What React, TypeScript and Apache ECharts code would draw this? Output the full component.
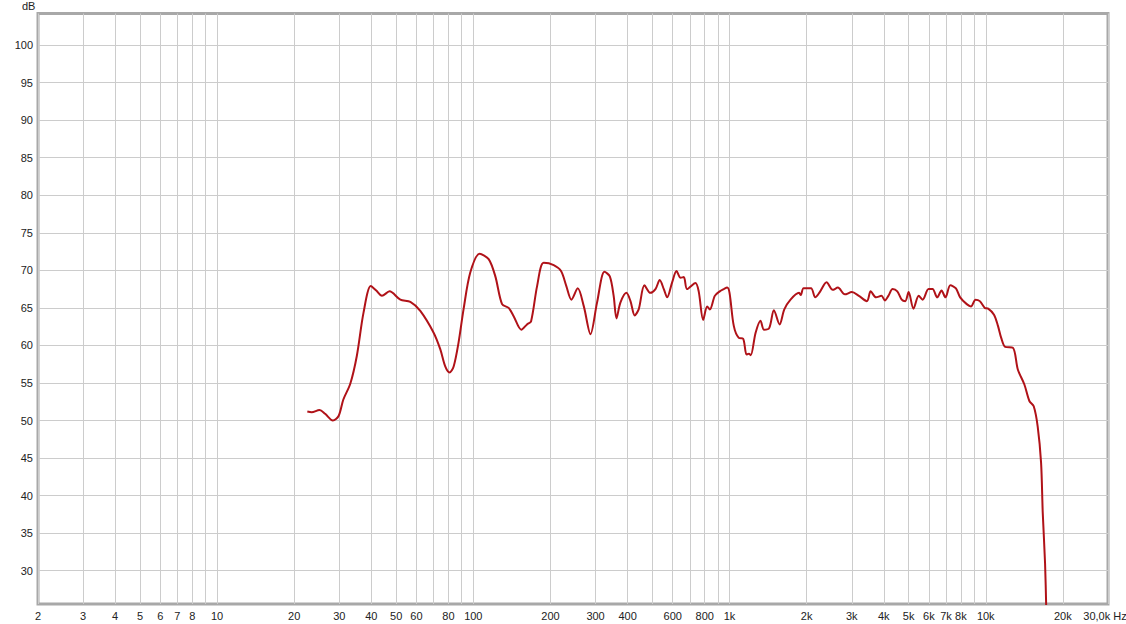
import React, { useEffect, useRef } from "react";
import * as echarts from "echarts";

const freqs = [
  22.5, 23.4, 25.1, 26.4, 28.3, 29.8, 31.1, 33.1, 35.1, 37.3, 39.8, 41.8, 44.0, 47.1, 51.9, 56.8, 62.1, 70.0, 74.3, 77.7,
  80.8, 83.8, 87.6, 91.6, 97.3, 105.8, 114.8, 121.9, 129.5, 137.4, 143.7, 154, 162, 168, 177.4, 188.2, 206, 220, 230.7,
  241.4, 255.6, 270, 286.6, 304, 325, 341, 353, 362, 375, 396, 410.6, 426.6, 442, 465.6, 491, 514, 534, 554, 571, 597,
  621, 644, 663, 683, 736, 758, 789, 818, 838, 876, 916, 950, 979, 1000, 1039, 1087, 1130, 1165, 1190, 1210, 1264, 1321,
  1363, 1428, 1490, 1568, 1636, 1730, 1868, 1897, 1945, 2080, 2160, 2250, 2392, 2527, 2648, 2820, 3002, 3197, 3436,
  3555, 3730, 3918, 4040, 4168, 4330, 4516, 4700, 4850, 5000, 5220, 5475, 5670, 5980, 6200, 6465, 6720, 6960, 7275,
  7650, 7945, 8430, 8755, 9123, 9480, 9915, 10220, 10770, 11160, 11490, 11910, 12760, 13340, 14150, 14800, 15390,
  15950, 16440, 16690, 17040, 17250,
];

const dbs = [
  51.2, 51.1, 51.4, 50.9, 50.0, 50.6, 52.8, 54.9, 58.6, 64.4, 67.9, 67.3, 66.6, 67.2, 66.1, 65.8, 64.6, 61.7, 59.5, 57.2,
  56.4, 57.2, 60.4, 64.8, 69.7, 72.2, 71.5, 69.2, 65.5, 65.0, 63.9, 62.1, 62.8, 63.2, 67.9, 71.0, 70.7, 69.9, 67.9,
  66.1, 67.6, 65.2, 61.5, 65.7, 69.8, 69.2, 66.6, 63.6, 65.7, 67.0, 65.9, 64.0, 64.8, 68.0, 67.0, 67.5, 68.7, 67.5, 66.4, 68.4,
  69.9, 69.0, 69.1, 67.5, 68.3, 67.2, 63.4, 65.2, 64.8, 66.6, 67.2, 67.5, 67.7, 67.0, 62.6, 61.0, 60.9, 58.8, 58.9, 58.7, 61.7, 63.3,
  62.1, 62.3, 64.7, 62.8, 64.8, 66.1, 67.0, 66.7, 67.6, 67.6, 66.4, 67.1, 68.4, 67.4, 67.7, 66.8, 67.1, 66.6, 65.9,
  67.2, 66.4, 66.6, 66.0, 66.6, 67.5, 67.2, 66.1, 65.9, 67.1, 64.9, 66.6, 66.1, 67.5, 67.5, 66.4, 67.3, 66.4, 68.0,
  67.6, 66.4, 65.5, 65.2, 66.1, 65.9, 65.0, 64.9, 64.1, 62.6, 61.0, 59.8, 59.7, 56.8, 54.8, 52.6, 51.9,
  49.2, 44.4, 37.7, 31.0, 24.0,
];

const xGridValues = [
  2, 3, 4, 5, 6, 7, 8, 9, 10, 20, 30, 40, 50, 60, 70, 80, 90, 100, 200, 300, 400, 500, 600, 700, 800, 900, 1000,
  2000, 3000, 4000, 5000, 6000, 7000, 8000, 9000, 10000, 20000, 30000,
];
const xLabelValues = [
  2, 3, 4, 5, 6, 7, 8, 10, 20, 30, 40, 50, 60, 80, 100, 200, 300, 400, 600, 800, 1000, 2000, 3000, 4000, 5000, 6000,
  7000, 8000, 10000, 20000, 30000,
];
const yTickValues = [30, 35, 40, 45, 50, 55, 60, 65, 70, 75, 80, 85, 90, 95, 100];

const fmtX = (v: number) => {
  if (v >= 30000) return "{m|30,0k Hz}";
  if (v >= 1000) return v / 1000 + "k";
  return String(v);
};

export default function App() {
  const ref = useRef<HTMLDivElement>(null);
  useEffect(() => {
    if (!ref.current) return;
    const chart = echarts.init(ref.current, undefined, { renderer: "svg" });
    const font = "'Liberation Sans', Arial, sans-serif";
    chart.setOption({
      animation: false,
      grid: {
        left: 38,
        top: 13.5,
        right: 18,
        bottom: 20,
        show: true,
        borderColor: "#a8a8a8",
        borderWidth: 3,
        backgroundColor: "#ffffff",
        containLabel: false,
        outerBoundsMode: "none",
      },
      xAxis: {
        type: "log",
        logBase: 10,
        min: 2,
        max: 30000,
        axisLine: { show: false },
        axisTick: { show: false, customValues: xGridValues },
        splitLine: { show: true, lineStyle: { color: "#cccccc", width: 1 } },
        minorSplitLine: { show: false },
        axisLabel: {
          customValues: xLabelValues,
          formatter: (v: number) => fmtX(v),
          color: "#222",
          fontFamily: font,
          fontSize: 11,
          margin: 6,
          rich: {
            m: { color: "#222", fontFamily: font, fontSize: 11, padding: [0, 6, 0, 0] },
          },
        },
      },
      yAxis: {
        type: "value",
        min: 25.57,
        max: 104.2,
        axisLine: { show: false },
        axisTick: { show: false, customValues: yTickValues },
        splitLine: { show: true, lineStyle: { color: "#cccccc", width: 1 } },
        axisLabel: {
          customValues: yTickValues,
          color: "#222",
          fontFamily: font,
          fontSize: 11,
          margin: 5,
        },
      },
      graphic: [
        {
          type: "text",
          left: 22,
          top: 0,
          style: { text: "dB", fill: "#222", font: "11px 'Liberation Sans', Arial, sans-serif" },
        },
      ],
      series: [
        {
          type: "line",
          data: freqs.map((f, i) => [f, dbs[i]]),
          showSymbol: false,
          smooth: 0.3,
          clip: true,
          lineStyle: { color: "#b01218", width: 2 },
        },
      ],
    });
    return () => chart.dispose();
  }, []);
  return <div ref={ref} style={{ width: 1126, height: 624, position: "absolute", left: 0, top: 0 }} />;
}
